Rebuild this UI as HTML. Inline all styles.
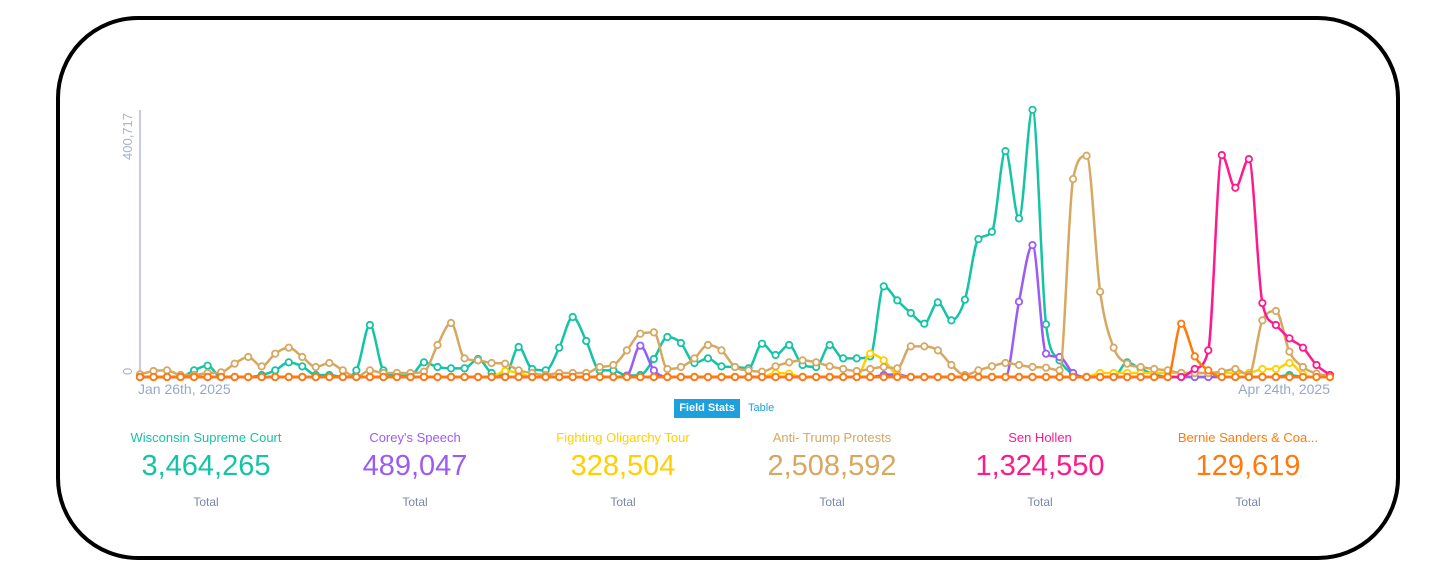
<!DOCTYPE html>
<html><head><meta charset="utf-8"><style>
body{margin:0;width:1456px;height:587px;background:#fff;font-family:"Liberation Sans",sans-serif;overflow:hidden;position:relative}
.frame{position:absolute;left:56px;top:16px;width:1344px;height:544px;border:4px solid #000;border-radius:82px;box-sizing:border-box}
.stat{position:absolute;width:210px;text-align:center}
.nm{position:absolute;top:430px;font-size:13px}
.val{position:absolute;top:450px;font-size:29px}
.tot{position:absolute;top:495px;font-size:12px;color:#7b86a8}
</style></head><body>
<div class="frame"></div>
<svg id="chart" width="1456" height="587" style="position:absolute;left:0;top:0">
<line x1="140" y1="110" x2="140" y2="377" stroke="#c5cbe8" stroke-width="2"/>
<text transform="translate(132,160) rotate(-90)" font-size="13" fill="#a8b2d2">400,717</text>
<text transform="translate(132,375) rotate(-90)" font-size="13" fill="#a8b2d2">0</text>
<text x="138" y="394" font-size="14" fill="#9aa8c8">Jan 26th, 2025</text>
<text x="1330" y="394" font-size="14" fill="#9aa8c8" text-anchor="end">Apr 24th, 2025</text>
<g id="series"></g>
</svg>
<div style="position:absolute;left:674px;top:399px;width:66px;height:19px;background:#1ea0dc;color:#fff;font-size:11px;font-weight:bold;line-height:19px;text-align:center">Field Stats</div>
<div style="position:absolute;left:748px;top:399px;height:19px;color:#1ea0dc;font-size:11px;line-height:19px">Table</div>
<div id="stats"></div>
<script>
const names=["Wisconsin Supreme Court","Corey's Speech","Fighting Oligarchy Tour","Anti- Trump Protests","Sen Hollen","Bernie Sanders & Coa..."];
const totals=["3,464,265","489,047","328,504","2,508,592","1,324,550","129,619"];
const colors=["#14c4a4","#9b5cf6","#ffd000","#d6a862","#ff1a8c","#ff7a0a"];
const teal=[0,0,0,0,10,17,0,0,0,3,10,22,16,3,3,0,10,78,10,2,2,22,15,13,13,27,6,2,45,12,10,44,90,54,10,10,2,3,27,60,51,21,28,16,15,13,50,33,48,18,15,48,28,28,31,136,115,96,80,112,85,116,207,218,339,238,401,79,25,4,0,0,0,22,12,4,0,0,0,0,0,0,0,0,0,3,0,0,0];
const tan=[4,9,10,3,3,6,7,20,30,16,35,44,30,15,21,10,0,10,6,6,6,8,48,81,28,25,21,20,10,6,3,6,6,6,15,18,40,65,67,12,15,28,48,40,15,10,8,16,22,25,22,16,12,9,12,15,13,46,46,40,18,3,10,16,21,18,15,14,10,297,332,128,44,20,15,12,10,6,6,6,8,12,3,85,99,38,15,5,2];
const purple=[0,0,0,0,0,0,0,0,0,0,0,0,0,0,0,0,0,0,0,0,0,0,0,0,0,0,0,0,0,0,0,0,0,0,0,0,2,47,10,0,0,0,0,0,0,0,0,0,0,0,0,0,0,0,0,3,4,0,0,0,0,0,0,0,0,113,198,35,30,6,0,0,0,0,0,0,0,0,0,0,0,0,0,0,0,0,0,0,0];
const yellow=[0,0,0,0,0,0,0,0,0,0,0,0,0,0,0,0,0,0,0,0,0,0,0,0,0,0,0,9,6,0,0,0,0,0,0,0,0,0,0,0,0,0,0,0,0,0,0,6,5,0,0,0,0,0,35,25,3,0,0,0,0,0,0,0,0,0,0,0,0,0,0,6,6,6,6,6,6,6,6,6,6,6,6,12,12,21,4,0,0];
const pink=[0,0,0,0,0,0,0,0,0,0,0,0,0,0,0,0,0,0,0,0,0,0,0,0,0,0,0,0,0,0,0,0,0,0,0,0,0,0,0,0,0,0,0,0,0,0,0,0,0,0,0,0,0,0,0,0,0,0,0,0,0,0,0,0,0,0,0,0,0,0,0,0,0,0,0,0,0,0,12,40,333,284,327,111,78,58,44,18,3];
const orange=[0,0,0,0,0,0,0,0,0,0,0,0,0,0,0,0,0,0,0,0,0,0,0,0,0,0,0,0,0,0,0,0,0,0,0,0,0,0,0,0,0,0,0,0,0,0,0,0,0,0,0,0,0,0,0,0,0,0,0,0,0,0,0,0,0,0,0,0,0,0,0,0,0,0,0,0,0,80,31,10,0,0,0,0,0,0,0,0,0];
const yMax=400.717;
const seriesData=[teal,purple,yellow,tan,pink,orange];
const seriesNames=["wisconsin","coreys-speech","fighting-oligarchy","anti-trump","sen-hollen","bernie-sanders"];
const X0=140,X1=1330,Y0=377,Y1=110;
function xs(i,n){return X0+(X1-X0)*i/(n-1);}
function ys(v){return Y0-(Y0-Y1)*v/yMax;}
function monoPath(px,py){
 const n=px.length,d=[],m=[];
 for(let i=0;i<n-1;i++)d.push((py[i+1]-py[i])/(px[i+1]-px[i]));
 m[0]=d[0];m[n-1]=d[n-2];
 for(let i=1;i<n-1;i++){m[i]=(d[i-1]*d[i]<=0)?0:(d[i-1]+d[i])/2;}
 for(let i=0;i<n-1;i++){if(d[i]===0){m[i]=0;m[i+1]=0;continue;}
  const a=m[i]/d[i],b=m[i+1]/d[i],s=a*a+b*b;if(s>9){const t=3/Math.sqrt(s);m[i]=t*a*d[i];m[i+1]=t*b*d[i];}}
 let p="M"+px[0]+","+py[0];
 for(let i=0;i<n-1;i++){const h=(px[i+1]-px[i])/3;
  p+="C"+(px[i]+h)+","+(py[i]+m[i]*h)+" "+(px[i+1]-h)+","+(py[i+1]-m[i+1]*h)+" "+px[i+1]+","+py[i+1];}
 return p;}
const g=document.getElementById('series');
const NS="http://www.w3.org/2000/svg";
seriesData.forEach((arr,k)=>{
 const n=arr.length,px=arr.map((v,i)=>xs(i,n)),py=arr.map(v=>ys(v));
 const grp=document.createElementNS(NS,'g');
 
 
 const path=document.createElementNS(NS,'path');
 path.setAttribute('d',monoPath(px,py));path.setAttribute('fill','none');
 path.setAttribute('stroke',colors[k]);path.setAttribute('stroke-width','2.5');
 
 
 grp.appendChild(path);
 arr.forEach((v,i)=>{const c=document.createElementNS(NS,'circle');
  c.setAttribute('cx',px[i]);c.setAttribute('cy',py[i]);c.setAttribute('r','3.2');
  c.setAttribute('fill','#fff');c.setAttribute('stroke',colors[k]);c.setAttribute('stroke-width','1.8');
  
  
  grp.appendChild(c);});
 g.appendChild(grp);});
const st=document.getElementById('stats');
const centers=[206,415,623,832,1040,1248];
names.forEach((nm,k)=>{
 const a=document.createElement('div');a.className='stat nm';a.style.left=(centers[k]-105)+'px';a.style.color=colors[k];a.textContent=nm;
 
 
 st.appendChild(a);
 const b=document.createElement('div');b.className='stat val';b.style.left=(centers[k]-105)+'px';b.style.color=colors[k];b.textContent=totals[k];
 
 
 st.appendChild(b);
 const c=document.createElement('div');c.className='stat tot';c.style.left=(centers[k]-105)+'px';c.textContent='Total';
 
 
 st.appendChild(c);});
</script>
</body></html>
